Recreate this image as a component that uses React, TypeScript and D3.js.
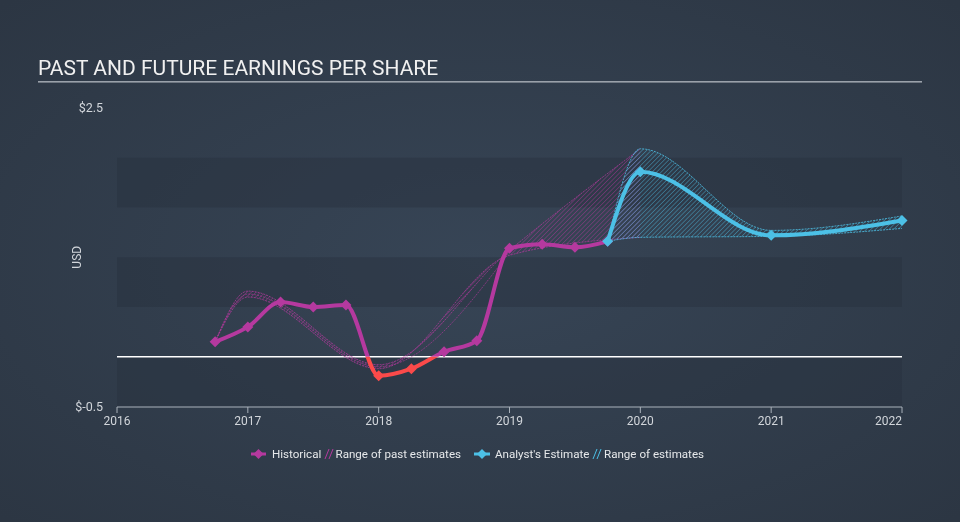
import React from "react";
import * as d3 from "d3";

const W = 960;
const H = 522;

// Historical EPS
const histDates = [2016.75, 2017.0, 2017.25, 2017.5, 2017.75, 2018.0, 2018.25, 2018.5, 2018.75, 2019.0, 2019.25, 2019.5, 2019.75];
const histValues = [0.15, 0.3, 0.55, 0.5, 0.52, -0.19, -0.12, 0.05, 0.16, 1.09, 1.13, 1.1, 1.16];

// Analyst estimates
const estDates = [2019.75, 2020.0, 2021.0, 2022.0];
const estValues = [1.16, 1.86, 1.22, 1.37];
const estLow = [1.16, 1.2, 1.21, 1.29];
const estHigh = [1.16, 2.09, 1.27, 1.415];

// Range of past estimates
const pastDates = [2016.75, 2017.0, 2018.0, 2019.0, 2020.0];
const pastLow = [0.15, 0.6, -0.12, 1.02, 1.2];
const pastHigh = [0.15, 0.66, -0.08, 1.07, 2.09];
const pastMidDates = [2016.75, 2017.0, 2018.0, 2019.0];
const pastMid = [0.15, 0.63, -0.1, 1.05];

const yearTicks = [2016, 2017, 2018, 2019, 2020, 2021, 2022];
const yTickValues = [2.5, -0.5];
const bandRanges = [[1.5, 2.0], [0.5, 1.0], [-0.5, 0.0]];

const MAGENTA = "#b5399f";
const RED = "#fb4a4a";
const BLUE = "#4cc0e6";

export default function App() {
  const x = d3.scaleLinear().domain([2016, 2022]).range([117, 902]);
  const y = d3.scaleLinear().domain([-0.5, 2.5]).range([406.5, 108]);

  const line = d3
    .line<[number, number]>()
    .x((d) => x(d[0]))
    .y((d) => y(d[1]))
    .curve(d3.curveMonotoneX);

  const area = d3
    .area<[number, number, number]>()
    .x((d) => x(d[0]))
    .y0((d) => y(d[1]))
    .y1((d) => y(d[2]))
    .curve(d3.curveMonotoneX);

  const histPts = histDates.map((d, i) => [d, histValues[i]] as [number, number]);
  const estPts = estDates.map((d, i) => [d, estValues[i]] as [number, number]);
  const pastArea = pastDates.map((d, i) => [d, pastLow[i], pastHigh[i]] as [number, number, number]);
  const estArea = estDates.map((d, i) => [d, estLow[i], estHigh[i]] as [number, number, number]);

  const diamond = (cx: number, cy: number, r: number) =>
    `M${cx},${cy - r}L${cx + r},${cy}L${cx},${cy + r}L${cx - r},${cy}Z`;

  const y0 = y(0);
  const fontFam = "Roboto, 'Noto Sans', sans-serif";

  return (
    <svg width={W} height={H} style={{ position: "fixed", left: 0, top: 0 }} xmlns="http://www.w3.org/2000/svg">
      <defs>
        <radialGradient id="bg" cx="50%" cy="50%" r="70%">
          <stop offset="0%" stopColor="#374556" />
          <stop offset="100%" stopColor="#2c3643" />
        </radialGradient>
        <pattern id="hatchPast" width="3.2" height="3.2" patternUnits="userSpaceOnUse" patternTransform="rotate(45)">
          <line x1="0" y1="0" x2="0" y2="3.2" stroke={MAGENTA} strokeWidth="1" strokeOpacity="0.75" />
        </pattern>
        <pattern id="hatchEst" width="3.2" height="3.2" patternUnits="userSpaceOnUse" patternTransform="rotate(45)">
          <line x1="0" y1="0" x2="0" y2="3.2" stroke={BLUE} strokeWidth="1" strokeOpacity="0.75" />
        </pattern>
        <clipPath id="above">
          <rect x="0" y="0" width={W} height={y0} />
        </clipPath>
        <clipPath id="below">
          <rect x="0" y={y0} width={W} height={H - y0} />
        </clipPath>
      </defs>

      <rect x="0" y="0" width={W} height={H} fill="url(#bg)" />

      {/* Title */}
      <text x={38} y={75} fontFamily={fontFam} fontSize={21} fill="#f0f0f0">
        PAST AND FUTURE EARNINGS PER SHARE
      </text>
      <rect x={38} y={81} width={884} height={1.6} fill="#9aa1aa" />

      {/* bands */}
      {bandRanges.map((b, i) => (
        <rect key={i} x={x(2016)} y={y(b[1])} width={x(2022) - x(2016)} height={y(b[0]) - y(b[1])} fill="#27313d" fillOpacity={0.45} />
      ))}

      {/* y labels */}
      {yTickValues.map((v) => (
        <text key={v} x={103} y={y(v)} dy="0.35em" textAnchor="end" fontFamily={fontFam} fontSize={12.5} fill="#d2d6db">
          {v < 0 ? `$-${Math.abs(v)}` : `$${v}`}
        </text>
      ))}
      <text transform={`translate(81,${y(1)}) rotate(-90)`} textAnchor="middle" fontFamily={fontFam} fontSize={12} fill="#d2d6db">
        USD
      </text>

      {/* zero line */}
      <line x1={x(2016)} x2={x(2022)} y1={y0} y2={y0} stroke="#ffffff" strokeWidth={1.5} />

      {/* x axis */}
      <line x1={x(2016)} x2={x(2022)} y1={407} y2={407} stroke="#a9b1ba" strokeWidth={1} />
      {yearTicks.map((t, i) => (
        <g key={t}>
          <line x1={x(t)} x2={x(t)} y1={407} y2={413} stroke="#a9b1ba" strokeWidth={1} />
          <text
            x={x(t)}
            y={421}
            dy="0.35em"
            textAnchor={i === yearTicks.length - 1 ? "end" : "middle"}
            fontFamily={fontFam}
            fontSize={12}
            fill="#d2d6db"
          >
            {t}
          </text>
        </g>
      ))}

      {/* Past estimates range */}
      <path d={area(pastArea) || ""} fill="url(#hatchPast)" />
      <path d={line(pastDates.map((d, i) => [d, pastLow[i]] as [number, number])) || ""} fill="none" stroke={MAGENTA} strokeWidth={1} strokeOpacity={0.7} strokeDasharray="2,1" />
      <path d={line(pastDates.map((d, i) => [d, pastHigh[i]] as [number, number])) || ""} fill="none" stroke={MAGENTA} strokeWidth={1} strokeOpacity={0.7} strokeDasharray="2,1" />
      <path d={line(pastMidDates.map((d, i) => [d, pastMid[i]] as [number, number])) || ""} fill="none" stroke={MAGENTA} strokeWidth={1} strokeOpacity={0.6} strokeDasharray="2,1" />

      {/* Future estimates range */}
      <path d={area(estArea) || ""} fill="url(#hatchEst)" />
      <path d={line(estDates.map((d, i) => [d, estLow[i]] as [number, number])) || ""} fill="none" stroke={BLUE} strokeWidth={1} strokeOpacity={0.8} strokeDasharray="2,1" />
      <path d={line(estDates.map((d, i) => [d, estHigh[i]] as [number, number])) || ""} fill="none" stroke={BLUE} strokeWidth={1} strokeOpacity={0.8} strokeDasharray="2,1" />

      {/* Historical line */}
      <path d={line(histPts) || ""} fill="none" stroke={MAGENTA} strokeWidth={4} clipPath="url(#above)" strokeLinejoin="round" />
      <path d={line(histPts) || ""} fill="none" stroke={RED} strokeWidth={4} clipPath="url(#below)" strokeLinejoin="round" />
      {histPts.map((p, i) => (
        <path key={i} d={diamond(x(p[0]), y(p[1]), 5.5)} fill={p[1] < 0 ? RED : MAGENTA} />
      ))}

      {/* Analyst line */}
      <path d={line(estPts) || ""} fill="none" stroke={BLUE} strokeWidth={4} strokeLinejoin="round" />
      {estPts.map((p, i) => (
        <path key={i} d={diamond(x(p[0]), y(p[1]), 5.5)} fill={BLUE} />
      ))}

      {/* Legend */}
      <g fontFamily={fontFam} fontSize={11.6} fill="#e6e8ea">
        <line x1={251} x2={266} y1={454} y2={454} stroke={MAGENTA} strokeWidth={3} />
        <path d={diamond(258.5, 454, 5)} fill={MAGENTA} />
        <text x={272} y={454} dy="0.35em">Historical</text>
        <path d="M325,459 L329,449 M329,459 L333,449" stroke={MAGENTA} strokeWidth={1} />
        <text x={335.5} y={454} dy="0.35em">Range of past estimates</text>

        <line x1={474} x2={490} y1={454} y2={454} stroke={BLUE} strokeWidth={3} />
        <path d={diamond(482, 454, 5)} fill={BLUE} />
        <text x={495} y={454} dy="0.35em">Analyst's Estimate</text>
        <path d="M593,459 L597,449 M597,459 L601,449" stroke={BLUE} strokeWidth={1} />
        <text x={604} y={454} dy="0.35em">Range of estimates</text>
      </g>
    </svg>
  );
}
